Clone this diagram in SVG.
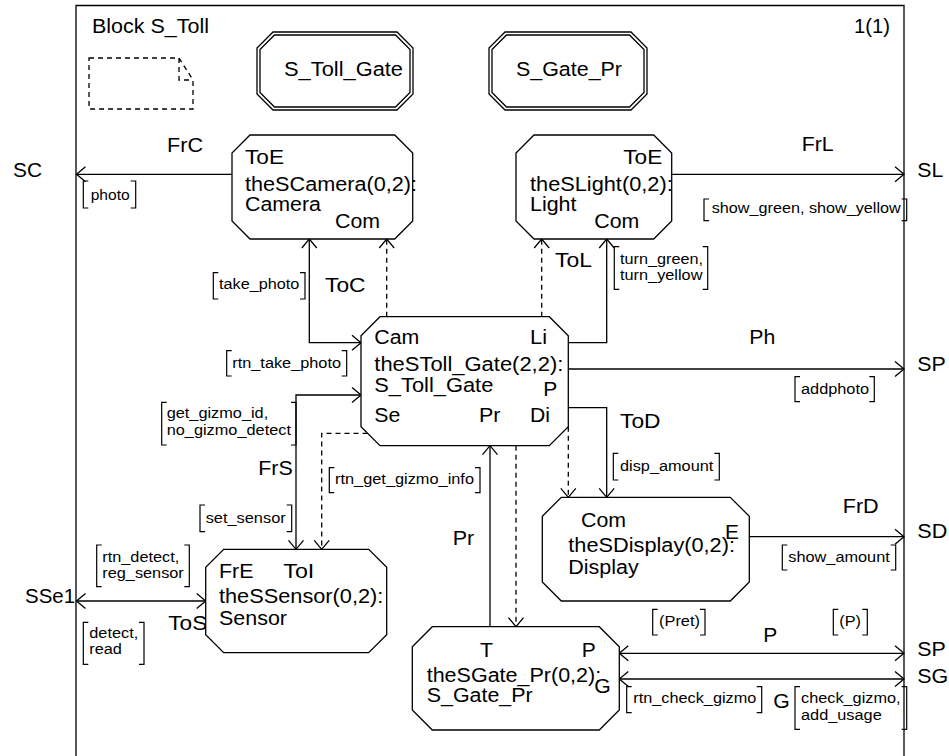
<svg xmlns="http://www.w3.org/2000/svg" width="949" height="756" viewBox="0 0 949 756">
<defs>
<style>
text{font-family:"Liberation Sans",Arial,sans-serif;fill:#000}
.t{font-size:19.5px}
.s{font-size:15.5px}
.n{fill:#fff;stroke:#000;stroke-width:1.3}
.c{fill:none;stroke:#000;stroke-width:1.3}
.d{fill:none;stroke:#000;stroke-width:1.3;stroke-dasharray:5,4}
.b{fill:none;stroke:#000;stroke-width:1.2}
</style>
<marker id="a" viewBox="-11 -9 13 18" refX="0" refY="0" markerWidth="13" markerHeight="18" markerUnits="userSpaceOnUse" orient="auto-start-reverse">
<path d="M-9,-7.5 L0,0 L-9,7.5" fill="none" stroke="#000" stroke-width="1.3"/>
</marker>
</defs>
<rect width="949" height="756" fill="#fff"/>
<g id="frame">
<path class="c" d="M76,780 V5.5 H904 V780"/>
<text class="t" x="92" y="33" textLength="117" lengthAdjust="spacingAndGlyphs">Block S_Toll</text>
<text class="t" x="854" y="33" textLength="36" lengthAdjust="spacingAndGlyphs">1(1)</text>
<path class="d" d="M89,58 H179 L193,80 V109 H89 Z M179,58 V80 H193" stroke-dasharray="5,3"/>
</g>
<g id="ref_S_Toll_Gate">
<path class="n" d="M273,32 H397 L413,48 V94 L397,110 H273 L257,94 V48 Z"/>
<path class="c" d="M274.5,35 H395.5 L410,49.5 V92.5 L395.5,107 H274.5 L260,92.5 V49.5 Z"/>
<text class="t" x="284" y="76" textLength="119" lengthAdjust="spacingAndGlyphs">S_Toll_Gate</text>
</g>
<g id="ref_S_Gate_Pr">
<path class="n" d="M505,32 H631 L647,48 V94 L631,110 H505 L489,94 V48 Z"/>
<path class="c" d="M506.5,35 H629.5 L644,49.5 V92.5 L629.5,107 H506.5 L492,92.5 V49.5 Z"/>
<text class="t" x="516" y="76" textLength="106" lengthAdjust="spacingAndGlyphs">S_Gate_Pr</text>
</g>
<g id="connectors">
<path class="c" d="M232,174.3 H76.5" marker-end="url(#a)"/>
<path class="c" d="M671.7,174.3 H904" marker-end="url(#a)"/>
<path class="c" d="M361,342.7 H309.3 V239" marker-start="url(#a)" marker-end="url(#a)"/>
<path class="d" d="M386.7,316.7 V239" marker-end="url(#a)"/>
<path class="c" d="M568.3,342.7 H606.7 V239" marker-end="url(#a)"/>
<path class="d" d="M541.7,316.7 V239" marker-end="url(#a)"/>
<path class="c" d="M568.3,369 H904" marker-end="url(#a)"/>
<path class="c" d="M361,395 H296 V549.3" marker-start="url(#a)" marker-end="url(#a)"/>
<path class="d" d="M367.5,433.3 H321.7 V549.3" marker-end="url(#a)"/>
<path class="c" d="M490,626.7 V445.7" marker-end="url(#a)"/>
<path class="d" d="M516,445.7 V626.7" marker-end="url(#a)"/>
<path class="d" d="M568.3,426.7 V497.3" marker-end="url(#a)"/>
<path class="c" d="M568.3,407.7 H606.7 V497.3" marker-end="url(#a)"/>
<path class="c" d="M749.3,536.7 H904" marker-end="url(#a)"/>
<path class="c" d="M76.5,601 H205.7" marker-start="url(#a)" marker-end="url(#a)"/>
<path class="c" d="M619.3,653.3 H904" marker-start="url(#a)" marker-end="url(#a)"/>
<path class="c" d="M619.3,679 H904" marker-start="url(#a)" marker-end="url(#a)"/>
<path class="b" d="M88.3,181 H83.3 V208 H88.3 M130.7,181 H135.7 V208 H130.7"/>
<path class="b" d="M218.3,272.7 H213.3 V299 H218.3 M300,272.7 H305 V299 H300"/>
<path class="b" d="M709,199 H704 V220.7 H709 M901.7,199 H906.7 V220.7 H901.7"/>
<path class="b" d="M619.3,246.7 H614.3 V289.3 H619.3 M702.7,246.7 H707.7 V289.3 H702.7"/>
<path class="b" d="M231.7,350.7 H226.7 V376 H231.7 M341.7,350.7 H346.7 V376 H341.7"/>
<path class="b" d="M800,376.7 H795 V401.7 H800 M869.3,376.7 H874.3 V401.7 H869.3"/>
<path class="b" d="M166.7,402.3 H161.7 V445 H166.7 M291,402.3 H296 V445 H291"/>
<path class="b" d="M618.3,453.3 H613.3 V480 H618.3 M714.3,453.3 H719.3 V480 H714.3"/>
<path class="b" d="M334.3,467.7 H329.3 V492.7 H334.3 M475,467.7 H480 V492.7 H475"/>
<path class="b" d="M205,505 H200 V531.7 H205 M286.7,505 H291.7 V531.7 H286.7"/>
<path class="b" d="M101.7,545 H96.7 V586.7 H101.7 M184.3,545 H189.3 V586.7 H184.3"/>
<path class="b" d="M787.3,545 H782.3 V570 H787.3 M890.7,545 H895.7 V570 H890.7"/>
<path class="b" d="M657.7,609.3 H652.7 V635 H657.7 M700,609.3 H705 V635 H700"/>
<path class="b" d="M838.3,609.3 H833.3 V635 H838.3 M862.3,609.3 H867.3 V635 H862.3"/>
<path class="b" d="M88.3,622.3 H83.3 V664.3 H88.3 M139,622.3 H144 V664.3 H139"/>
<path class="b" d="M631.7,686.7 H626.7 V712.7 H631.7 M756.7,686.7 H761.7 V712.7 H756.7"/>
<path class="b" d="M800,686.7 H795 V729.3 H800 M901.7,686.7 H906.7 V729.3 H901.7"/>
<text class="t" x="13" y="177" textLength="29" lengthAdjust="spacingAndGlyphs">SC</text>
<text class="t" x="167" y="152" textLength="36" lengthAdjust="spacingAndGlyphs">FrC</text>
<text class="s" x="90.7" y="200" textLength="39" lengthAdjust="spacingAndGlyphs">photo</text>
<text class="s" x="219" y="289.3" textLength="80.3" lengthAdjust="spacingAndGlyphs">take_photo</text>
<text class="t" x="325" y="291.7" textLength="40.5" lengthAdjust="spacingAndGlyphs">ToC</text>
<text class="t" x="801.7" y="150.7" textLength="32" lengthAdjust="spacingAndGlyphs">FrL</text>
<text class="t" x="917.3" y="177" textLength="26" lengthAdjust="spacingAndGlyphs">SL</text>
<text class="s" x="711.7" y="213.3" textLength="189" lengthAdjust="spacingAndGlyphs">show_green, show_yellow</text>
<text class="t" x="555" y="266.7" textLength="37" lengthAdjust="spacingAndGlyphs">ToL</text>
<text class="s" x="620" y="263.5" textLength="83" lengthAdjust="spacingAndGlyphs">turn_green,</text>
<text class="s" x="620" y="279.5" textLength="82.4" lengthAdjust="spacingAndGlyphs">turn_yellow</text>
<text class="s" x="232.3" y="368.3" textLength="108.7" lengthAdjust="spacingAndGlyphs">rtn_take_photo</text>
<text class="t" x="749.3" y="344" textLength="26" lengthAdjust="spacingAndGlyphs">Ph</text>
<text class="t" x="917.3" y="370.7" textLength="28.5" lengthAdjust="spacingAndGlyphs">SP</text>
<text class="s" x="801" y="394.3" textLength="68" lengthAdjust="spacingAndGlyphs">addphoto</text>
<text class="s" x="166.7" y="418.3" textLength="101.5" lengthAdjust="spacingAndGlyphs">get_gizmo_id,</text>
<text class="s" x="166.7" y="434.5" textLength="124.3" lengthAdjust="spacingAndGlyphs">no_gizmo_detect</text>
<text class="t" x="620" y="428.3" textLength="40.5" lengthAdjust="spacingAndGlyphs">ToD</text>
<text class="s" x="620" y="471" textLength="93.3" lengthAdjust="spacingAndGlyphs">disp_amount</text>
<text class="t" x="258.3" y="475" textLength="34.5" lengthAdjust="spacingAndGlyphs">FrS</text>
<text class="s" x="335" y="484.3" textLength="139" lengthAdjust="spacingAndGlyphs">rtn_get_gizmo_info</text>
<text class="s" x="205.7" y="522.7" textLength="80" lengthAdjust="spacingAndGlyphs">set_sensor</text>
<text class="t" x="452.7" y="545" textLength="21.5" lengthAdjust="spacingAndGlyphs">Pr</text>
<text class="s" x="102.3" y="561.5" textLength="77" lengthAdjust="spacingAndGlyphs">rtn_detect,</text>
<text class="s" x="102.3" y="577.5" textLength="81.5" lengthAdjust="spacingAndGlyphs">reg_sensor</text>
<text class="t" x="25" y="603.3" textLength="50" lengthAdjust="spacingAndGlyphs">SSe1</text>
<text class="t" x="168.3" y="630" textLength="39" lengthAdjust="spacingAndGlyphs">ToS</text>
<text class="s" x="89.3" y="638" textLength="49" lengthAdjust="spacingAndGlyphs">detect,</text>
<text class="s" x="89.3" y="654" textLength="32.6" lengthAdjust="spacingAndGlyphs">read</text>
<text class="t" x="842.7" y="513.3" textLength="36" lengthAdjust="spacingAndGlyphs">FrD</text>
<text class="t" x="917.3" y="538.3" textLength="30" lengthAdjust="spacingAndGlyphs">SD</text>
<text class="s" x="788.3" y="562.3" textLength="101.5" lengthAdjust="spacingAndGlyphs">show_amount</text>
<text class="s" x="659" y="626" textLength="41" lengthAdjust="spacingAndGlyphs">(Pret)</text>
<text class="s" x="839.3" y="626" textLength="21.7" lengthAdjust="spacingAndGlyphs">(P)</text>
<text class="t" x="763.3" y="641.7" textLength="14" lengthAdjust="spacingAndGlyphs">P</text>
<text class="t" x="917.3" y="656" textLength="28.5" lengthAdjust="spacingAndGlyphs">SP</text>
<text class="t" x="917.3" y="682.7" textLength="31" lengthAdjust="spacingAndGlyphs">SG</text>
<text class="s" x="633.3" y="703.3" textLength="123" lengthAdjust="spacingAndGlyphs">rtn_check_gizmo</text>
<text class="t" x="773.3" y="708.3" textLength="16.5" lengthAdjust="spacingAndGlyphs">G</text>
<text class="s" x="801" y="703.3" textLength="99.6" lengthAdjust="spacingAndGlyphs">check_gizmo,</text>
<text class="s" x="801" y="719.5" textLength="80.7" lengthAdjust="spacingAndGlyphs">add_usage</text>
</g>
<g id="theSCamera">
<path class="n" d="M250,135 H394.7 L412.7,153 V221 L394.7,239 H250 L232,221 V153 Z"/>
<text class="t" x="245" y="164" textLength="39" lengthAdjust="spacingAndGlyphs">ToE</text>
<text class="t" x="245" y="190.7" textLength="172" lengthAdjust="spacingAndGlyphs">theSCamera(0,2):</text>
<text class="t" x="245" y="211" textLength="76" lengthAdjust="spacingAndGlyphs">Camera</text>
<text class="t" x="335" y="228" textLength="45" lengthAdjust="spacingAndGlyphs">Com</text>
</g>
<g id="theSLight">
<path class="n" d="M534,135 H653.7 L671.7,153 V221 L653.7,239 H534 L516,221 V153 Z"/>
<text class="t" x="623.3" y="164" textLength="39" lengthAdjust="spacingAndGlyphs">ToE</text>
<text class="t" x="530" y="190.7" textLength="142.7" lengthAdjust="spacingAndGlyphs">theSLight(0,2):</text>
<text class="t" x="530" y="211" textLength="46.5" lengthAdjust="spacingAndGlyphs">Light</text>
<text class="t" x="594.3" y="228" textLength="45" lengthAdjust="spacingAndGlyphs">Com</text>
</g>
<g id="theSToll_Gate">
<path class="n" d="M380,316.7 H549.3 L568.3,335.7 V426.7 L549.3,445.7 H380 L361,426.7 V335.7 Z"/>
<text class="t" x="374.3" y="344.3" textLength="45" lengthAdjust="spacingAndGlyphs">Cam</text>
<text class="t" x="530" y="344.3" textLength="17" lengthAdjust="spacingAndGlyphs">Li</text>
<text class="t" x="374.3" y="371" textLength="189" lengthAdjust="spacingAndGlyphs">theSToll_Gate(2,2):</text>
<text class="t" x="374.3" y="391.7" textLength="119" lengthAdjust="spacingAndGlyphs">S_Toll_Gate</text>
<text class="t" x="543.3" y="396" textLength="14" lengthAdjust="spacingAndGlyphs">P</text>
<text class="t" x="374.3" y="421.7" textLength="26" lengthAdjust="spacingAndGlyphs">Se</text>
<text class="t" x="479" y="421.7" textLength="21.5" lengthAdjust="spacingAndGlyphs">Pr</text>
<text class="t" x="530" y="421.7" textLength="20" lengthAdjust="spacingAndGlyphs">Di</text>
</g>
<g id="theSDisplay">
<path class="n" d="M561.3,497.3 H730.3 L749.3,516.3 V582 L730.3,601 H561.3 L542.3,582 V516.3 Z"/>
<text class="t" x="581" y="526.7" textLength="45" lengthAdjust="spacingAndGlyphs">Com</text>
<text class="t" x="568.3" y="551.7" textLength="166.7" lengthAdjust="spacingAndGlyphs">theSDisplay(0,2):</text>
<text class="t" x="568.3" y="574" textLength="70.5" lengthAdjust="spacingAndGlyphs">Display</text>
<text class="t" x="725" y="539.3" textLength="14" lengthAdjust="spacingAndGlyphs">E</text>
</g>
<g id="theSSensor">
<path class="n" d="M223.7,549.3 H368.7 L386.7,567.3 V634.7 L368.7,652.7 H223.7 L205.7,634.7 V567.3 Z"/>
<text class="t" x="219" y="578.3" textLength="34.5" lengthAdjust="spacingAndGlyphs">FrE</text>
<text class="t" x="283.3" y="578.3" textLength="31" lengthAdjust="spacingAndGlyphs">ToI</text>
<text class="t" x="219" y="603.3" textLength="164.3" lengthAdjust="spacingAndGlyphs">theSSensor(0,2):</text>
<text class="t" x="219" y="625" textLength="68" lengthAdjust="spacingAndGlyphs">Sensor</text>
</g>
<g id="theSGate_Pr">
<path class="n" d="M432.3,626.7 H599.3 L619.3,646.7 V710 L599.3,730 H432.3 L412.3,710 V646.7 Z"/>
<text class="t" x="480" y="656.7" textLength="13" lengthAdjust="spacingAndGlyphs">T</text>
<text class="t" x="581.7" y="656.7" textLength="14" lengthAdjust="spacingAndGlyphs">P</text>
<text class="t" x="426.7" y="681.7" textLength="174.5" lengthAdjust="spacingAndGlyphs">theSGate_Pr(0,2):</text>
<text class="t" x="426.7" y="701.7" textLength="106" lengthAdjust="spacingAndGlyphs">S_Gate_Pr</text>
<text class="t" x="594.3" y="693.3" textLength="16.5" lengthAdjust="spacingAndGlyphs">G</text>
</g>
</svg>
